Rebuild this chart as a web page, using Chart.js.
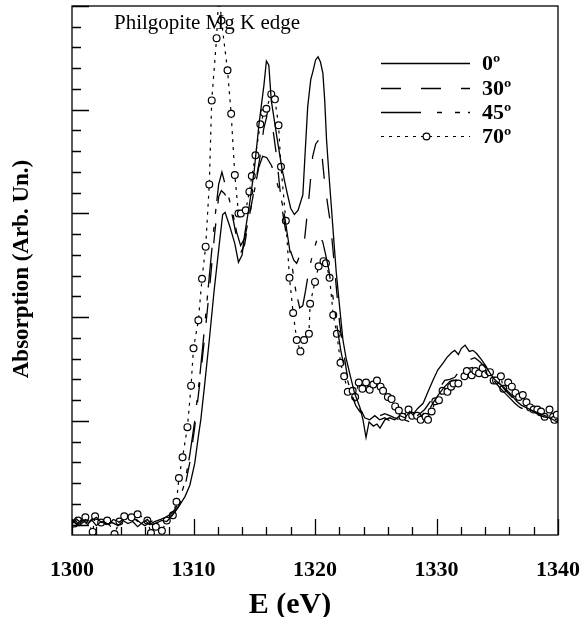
<!DOCTYPE html>
<html>
<head>
<meta charset="utf-8">
<script src="https://cdn.jsdelivr.net/npm/chart.js@4.4.1/dist/chart.umd.min.js"></script>
<style>
  html, body { margin: 0; padding: 0; background: #fff; }
  canvas { display: block; }
</style>
</head>
<body>
<canvas id="chart" width="581" height="617"></canvas>
<script>
// Philgopite Mg K edge, four incidence angles

const xTicks = [1300, 1310, 1320, 1330, 1340];
const seriesNames = ["0º", "30º", "45º", "70º"];

const energy0 = [1300.0, 1300.3, 1300.6, 1301.0, 1301.3, 1301.6, 1302.0, 1302.4, 1302.8, 1303.3, 1303.8, 1304.2, 1304.6, 1305.0, 1305.4, 1305.8, 1306.2, 1306.6, 1307.0, 1307.4, 1307.8, 1308.2,
  1308.7, 1309.3, 1309.7, 1310.1, 1310.4, 1310.6, 1310.9, 1311.3, 1311.7, 1312.1, 1312.4, 1312.6, 1313.0, 1313.4, 1313.7, 1314.0, 1314.2, 1314.6, 1315.0, 1315.4, 1315.8, 1316.0, 1316.2, 1316.4, 1316.9, 1317.3, 1317.7, 1318.0, 1318.3, 1318.6, 1319.0, 1319.2, 1319.4, 1319.65, 1319.85, 1320.05, 1320.25, 1320.45, 1320.65, 1320.8, 1320.95, 1321.15, 1321.35, 1321.55, 1321.75, 1322.05, 1322.3, 1322.55, 1322.85, 1323.25, 1323.7, 1323.95, 1324.2, 1324.45, 1324.8, 1325.1, 1325.35, 1325.75, 1326.15, 1326.55, 1327.0, 1327.4, 1327.8, 1328.05, 1328.45, 1328.9, 1329.3, 1329.7, 1330.1, 1330.55, 1330.85, 1331.25, 1331.5, 1331.8, 1332.05, 1332.35, 1332.7, 1333.0, 1333.3, 1333.7, 1334.05, 1334.4, 1334.7, 1335.05, 1335.4, 1335.75, 1336.1, 1336.6, 1337.0, 1337.35, 1337.7, 1338.25, 1338.8, 1339.35, 1339.9, 1340.0];
const absorb0 = [0.01, 0.04, -0.01, 0.03, 0.00, 0.05, -0.01, 0.03, 0.00, 0.02, -0.01, 0.04, 0.01, 0.03, -0.02, 0.02, 0.05, 0.00, 0.02, 0.04, 0.03, 0.08,
  0.16, 0.27, 0.38, 0.59, 0.85, 1.01, 1.33, 1.78, 2.26, 2.68, 2.99, 3.01, 2.87, 2.71, 2.53, 2.60, 2.79, 3.08, 3.42, 3.87, 4.24, 4.47, 4.43, 4.09, 3.71, 3.42, 3.20, 3.05, 2.99, 3.03, 3.18, 3.61, 4.03, 4.29, 4.38, 4.48, 4.51, 4.46, 4.35, 4.09, 3.71, 3.37, 3.06, 2.74, 2.43, 2.07, 1.78, 1.61, 1.46, 1.27, 1.13, 1.01, 0.84, 0.99, 0.95, 0.97, 0.93, 1.01, 1.03, 1.01, 1.05, 1.03, 1.09, 1.06, 1.12, 1.17, 1.28, 1.39, 1.49, 1.56, 1.61, 1.66, 1.68, 1.64, 1.70, 1.73, 1.67, 1.68, 1.65, 1.59, 1.53, 1.46, 1.41, 1.37, 1.34, 1.30, 1.26, 1.19, 1.15, 1.13, 1.11, 1.07, 1.04, 1.03, 0.99, 0.99];

const energy30 = [1300.0, 1300.4, 1300.8, 1301.2, 1301.6, 1302.0, 1302.5, 1303.0, 1303.4, 1303.8, 1304.3, 1304.8, 1305.2, 1305.6, 1306.0, 1306.5, 1307.0, 1307.4, 1307.8, 1308.2, 1308.5,
  1308.85, 1309.27, 1309.68, 1310.09, 1310.5, 1310.91, 1311.32, 1311.73, 1312.07, 1312.29, 1312.56, 1312.97, 1313.3, 1313.63, 1313.88, 1314.21, 1314.62, 1315.03, 1315.44, 1315.77, 1316.06, 1316.35, 1316.6, 1316.84, 1317.09, 1317.34, 1317.67, 1317.92, 1318.25, 1318.49, 1318.74, 1319.15, 1319.48, 1319.81, 1320.06, 1320.31, 1320.55, 1320.8, 1321.05, 1321.29, 1321.54, 1321.79, 1322.03, 1322.36, 1322.69, 1323.02, 1323.35, 1323.68, 1324.09, 1324.5, 1324.92, 1325.33, 1325.74, 1326.15, 1326.56, 1326.98, 1327.39, 1327.8, 1328.21, 1328.62, 1329.03, 1329.45, 1329.86, 1330.27, 1330.68, 1331.09, 1331.51, 1331.92, 1332.33, 1332.74, 1333.15, 1333.57, 1333.98, 1334.39, 1334.8, 1335.21, 1335.62, 1336.04, 1336.45, 1336.86, 1337.27, 1337.69, 1338.1, 1338.51, 1338.92, 1339.33, 1339.88, 1340.0];
const absorb30 = [0.04, 0.00, 0.05, 0.02, 0.06, 0.01, 0.04, 0.00, 0.05, 0.03, 0.00, 0.04, 0.06, 0.02, -0.01, 0.03, 0.05, 0.02, 0.06, 0.09, 0.13,
  0.19, 0.35, 0.59, 0.93, 1.35, 1.80, 2.28, 2.79, 3.16, 3.22, 3.19, 3.10, 2.92, 2.72, 2.62, 2.70, 2.99, 3.25, 3.52, 3.81, 3.95, 3.93, 3.76, 3.55, 3.26, 3.01, 2.77, 2.66, 2.55, 2.52, 2.59, 2.76, 3.13, 3.55, 3.67, 3.71, 3.59, 3.29, 3.08, 2.89, 2.57, 2.24, 1.94, 1.66, 1.41, 1.25, 1.15, 1.09, 1.05, 1.06, 1.03, 1.05, 1.07, 1.05, 1.03, 1.01, 1.03, 1.02, 1.03, 1.07, 1.11, 1.18, 1.25, 1.32, 1.39, 1.40, 1.42, 1.49, 1.56, 1.59, 1.61, 1.57, 1.52, 1.47, 1.41, 1.36, 1.30, 1.25, 1.20, 1.16, 1.13, 1.11, 1.09, 1.07, 1.05, 1.04, 1.02, 1.02];

const energy45 = [1300.0, 1300.3, 1300.7, 1301.1, 1301.5, 1302.0, 1302.4, 1302.9, 1303.3, 1303.7, 1304.2, 1304.6, 1305.1, 1305.5, 1306.0, 1306.4, 1306.8, 1307.3, 1307.7, 1308.1, 1308.5,
  1308.85, 1309.27, 1309.68, 1310.09, 1310.5, 1310.91, 1311.32, 1311.73, 1312.07, 1312.34, 1312.56, 1312.89, 1313.22, 1313.55, 1313.88, 1314.21, 1314.62, 1315.03, 1315.36, 1315.69, 1316.02, 1316.43, 1316.76, 1317.09, 1317.42, 1317.75, 1318.08, 1318.41, 1318.74, 1318.99, 1319.23, 1319.48, 1319.81, 1320.14, 1320.39, 1320.63, 1320.88, 1321.13, 1321.46, 1321.79, 1322.12, 1322.45, 1322.78, 1323.1, 1323.43, 1323.85, 1324.09, 1324.5, 1324.92, 1325.33, 1325.74, 1326.15, 1326.56, 1326.98, 1327.39, 1327.8, 1328.21, 1328.62, 1329.03, 1329.45, 1329.86, 1330.27, 1330.68, 1331.09, 1331.51, 1331.92, 1332.33, 1332.74, 1333.15, 1333.57, 1333.98, 1334.39, 1334.8, 1335.21, 1335.62, 1336.04, 1336.45, 1336.86, 1337.27, 1337.69, 1338.1, 1338.51, 1338.92, 1339.33, 1339.88, 1340.0];
const absorb45 = [0.03, 0.06, 0.02, 0.05, 0.03, 0.07, 0.02, 0.05, 0.04, 0.01, 0.05, 0.03, 0.06, 0.02, 0.04, 0.00, 0.03, 0.05, 0.07, 0.10, 0.15,
  0.24, 0.40, 0.66, 0.99, 1.41, 1.90, 2.42, 2.92, 3.28, 3.40, 3.30, 3.16, 3.01, 2.82, 2.69, 2.76, 2.99, 3.23, 3.44, 3.55, 3.54, 3.46, 3.34, 3.21, 3.03, 2.78, 2.52, 2.26, 2.09, 2.11, 2.26, 2.44, 2.61, 2.74, 2.77, 2.73, 2.60, 2.46, 2.21, 1.93, 1.68, 1.49, 1.35, 1.23, 1.15, 1.09, 1.03, 1.01, 1.05, 1.01, 1.03, 1.00, 1.01, 0.99, 1.01, 0.99, 1.01, 1.04, 1.08, 1.12, 1.20, 1.27, 1.33, 1.38, 1.39, 1.41, 1.47, 1.51, 1.52, 1.49, 1.47, 1.42, 1.38, 1.32, 1.27, 1.22, 1.17, 1.13, 1.11, 1.09, 1.07, 1.05, 1.04, 1.03, 1.01, 1.01];

const energy70 = [1300.2, 1300.5, 1301.1, 1301.7, 1301.9, 1302.4, 1302.9, 1303.5, 1303.9, 1304.3, 1304.9, 1305.4, 1306.2, 1306.5, 1306.9, 1307.4, 1307.8, 1308.3, 1308.6, 1308.8, 1309.1, 1309.5, 1309.8, 1310.0, 1310.4, 1310.7, 1311.0, 1311.3, 1311.5, 1311.9, 1312.1, 1312.3, 1312.8, 1313.1, 1313.4, 1313.7, 1313.9, 1314.3, 1314.6, 1314.8, 1315.1, 1315.5, 1315.8, 1316.0, 1316.4, 1316.7, 1317.0, 1317.2, 1317.6, 1317.9, 1318.2, 1318.5, 1318.8, 1319.1, 1319.5, 1319.6, 1320.0, 1320.3, 1320.7, 1320.9, 1321.2, 1321.5, 1321.8, 1322.1, 1322.4, 1322.7, 1323.1, 1323.3, 1323.6, 1323.9, 1324.2, 1324.5, 1324.8, 1325.1, 1325.4, 1325.6, 1326.0, 1326.3, 1326.6, 1326.9, 1327.2, 1327.7, 1328.0, 1328.4, 1328.7, 1329.1, 1329.3, 1329.6, 1329.9, 1330.2, 1330.5, 1330.9, 1331.2, 1331.4, 1331.8, 1332.3, 1332.5, 1332.9, 1333.2, 1333.5, 1333.8, 1334.0, 1334.4, 1334.7, 1334.9, 1335.3, 1335.5, 1335.9, 1336.2, 1336.5, 1336.8, 1337.1, 1337.4, 1337.7, 1338.0, 1338.3, 1338.6, 1338.9, 1339.3, 1339.6, 1339.7, 1339.9];
const absorb70 = [0.01, 0.04, 0.07, -0.07, 0.08, 0.02, 0.04, -0.09, 0.03, 0.08, 0.07, 0.10, 0.04, -0.08, -0.02, -0.06, 0.04, 0.09, 0.22, 0.45, 0.65, 0.94, 1.34, 1.70, 1.97, 2.37, 2.68, 3.28, 4.09, 4.69, 5.16, 4.86, 4.38, 3.96, 3.37, 3.00, 3.00, 3.03, 3.21, 3.36, 3.56, 3.86, 3.97, 4.01, 4.15, 4.10, 3.85, 3.45, 2.93, 2.38, 2.04, 1.78, 1.67, 1.78, 1.84, 2.13, 2.34, 2.49, 2.54, 2.52, 2.38, 2.02, 1.84, 1.56, 1.43, 1.28, 1.29, 1.23, 1.37, 1.31, 1.37, 1.30, 1.35, 1.39, 1.33, 1.29, 1.23, 1.21, 1.14, 1.10, 1.04, 1.11, 1.05, 1.05, 1.01, 1.04, 1.01, 1.09, 1.19, 1.20, 1.29, 1.28, 1.33, 1.36, 1.36, 1.43, 1.48, 1.44, 1.48, 1.46, 1.51, 1.45, 1.47, 1.39, 1.39, 1.43, 1.31, 1.37, 1.33, 1.27, 1.23, 1.25, 1.18, 1.13, 1.11, 1.11, 1.09, 1.04, 1.11, 1.04, 1.01, 1.06];

const SERIF = '"Liberation Serif", "Times New Roman", serif';

// line styles, same order as seriesNames
const styles = [
  { dash: [], width: 1.3, marker: false },
  { dash: [20, 20], width: 1.3, marker: false },
  { dash: [40, 16, 5, 13, 5, 8], width: 1.3, marker: false },
  { dash: [3, 5], width: 1.2, marker: true }
];

const pairs = (xs, ys) => xs.map((x, i) => ({ x, y: ys[i] }));
const seriesData = [
  pairs(energy0, absorb0),
  pairs(energy30, absorb30),
  pairs(energy45, absorb45),
  pairs(energy70, absorb70)
];

const datasets = seriesNames.map((name, i) => ({
  label: name,
  data: seriesData[i],
  borderColor: "#000",
  borderWidth: styles[i].width,
  borderDash: styles[i].dash,
  tension: 0,
  fill: false,
  clip: 0,
  pointRadius: styles[i].marker ? 3.4 : 0,
  pointBorderWidth: 1.2,
  pointBorderColor: "#000",
  pointBackgroundColor: "#fff",
  pointStyle: "circle"
}));

// frame, inward ticks, texts and legend
const decorations = {
  id: "decorations",
  afterDatasetsDraw(chart) {
    const { ctx, scales: { x, y } } = chart;
    const left = x.getPixelForValue(x.min);
    const right = x.getPixelForValue(x.max);
    const top = y.getPixelForValue(y.max);
    const bottom = y.getPixelForValue(y.min);
    ctx.save();
    ctx.strokeStyle = "#000";
    ctx.lineWidth = 1.3;
    ctx.setLineDash([]);
    ctx.strokeRect(left, top, right - left, bottom - top);

    ctx.beginPath();
    for (let v = 1300; v <= 1340; v += 2) {
      const px = Math.round(x.getPixelForValue(v)) + 0.5;
      const len = v % 10 === 0 ? 16 : 8;
      ctx.moveTo(px, bottom);
      ctx.lineTo(px, bottom - len);
    }
    for (let k = 0; k <= 25; k++) {
      const v = k * 0.2;
      const py = Math.round(y.getPixelForValue(v)) + 0.5;
      const len = k % 5 === 0 ? 17 : 9;
      ctx.moveTo(left, py);
      ctx.lineTo(left + len, py);
    }
    ctx.stroke();
    ctx.restore();
  },
  afterDraw(chart) {
    const { ctx } = chart;
    ctx.save();
    ctx.fillStyle = "#000";

    ctx.font = "21px " + SERIF;
    ctx.textAlign = "left";
    ctx.textBaseline = "alphabetic";
    ctx.fillText("Philgopite Mg K edge", 114, 29);

    ctx.font = "bold 30px " + SERIF;
    ctx.textAlign = "center";
    ctx.fillText("E (eV)", 290, 613);

    ctx.save();
    ctx.translate(22, 269);
    ctx.rotate(-Math.PI / 2);
    ctx.font = "bold 23px " + SERIF;
    ctx.textBaseline = "middle";
    ctx.fillText("Absorption (Arb. Un.)", 0, 0);
    ctx.restore();

    // legend
    const rows = [63, 88, 112, 136];
    ctx.font = "bold 22px " + SERIF;
    ctx.textAlign = "left";
    ctx.textBaseline = "middle";
    seriesNames.forEach((name, i) => {
      const yy = rows[i] + 0.5;
      ctx.strokeStyle = "#000";
      ctx.lineWidth = styles[i].width;
      ctx.setLineDash(styles[i].dash);
      ctx.beginPath();
      ctx.moveTo(381, yy);
      ctx.lineTo(470, yy);
      ctx.stroke();
      if (styles[i].marker) {
        ctx.setLineDash([]);
        ctx.fillStyle = "#fff";
        ctx.beginPath();
        ctx.arc(426.5, yy, 3.4, 0, Math.PI * 2);
        ctx.fill();
        ctx.stroke();
        ctx.fillStyle = "#000";
      }
      ctx.fillText(name, 482, rows[i] + 1);
    });
    ctx.restore();
  }
};

new Chart(document.getElementById("chart"), {
  type: "line",
  data: { datasets },
  plugins: [decorations],
  options: {
    responsive: false,
    animation: false,
    events: [],
    layout: { autoPadding: false, padding: { top: 6, right: 23, left: 0, bottom: 0 } },
    plugins: { legend: { display: false }, tooltip: { enabled: false } },
    scales: {
      x: {
        type: "linear",
        min: 1300,
        max: 1340,
        afterFit: (s) => { s.height = 82; },
        afterBuildTicks: (s) => { s.ticks = xTicks.map(v => ({ value: v })); },
        // invisible tick marks give the label offset, so ticks.padding
        // does not widen the right margin
        grid: { display: true, color: "rgba(0,0,0,0)", drawOnChartArea: false, drawTicks: true, tickLength: 22 },
        border: { display: false },
        ticks: {
          padding: 0,
          color: "#000",
          maxRotation: 0,
          font: { family: SERIF, size: 22, weight: "bold" },
          callback: (v) => String(v)
        }
      },
      y: {
        type: "linear",
        min: -0.1,
        max: 5.0,
        afterFit: (s) => { s.width = 72; },
        grid: { display: false, drawTicks: false },
        border: { display: false },
        ticks: { display: false }
      }
    }
  }
});
</script>
</body>
</html>
